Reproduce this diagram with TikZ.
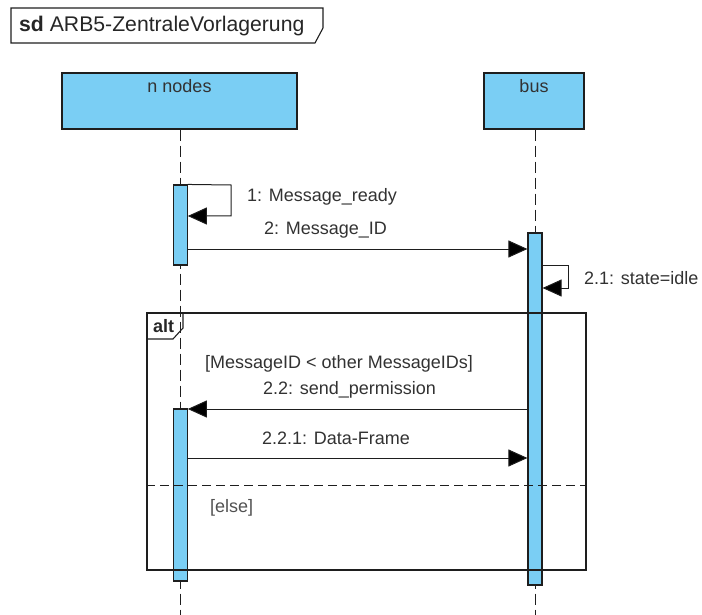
\documentclass[tikz,border=0pt]{standalone}
\usepackage{fontspec}
\setmainfont{Liberation Sans}
\usetikzlibrary{arrows.meta}
\definecolor{lifefill}{RGB}{122,206,244}
\definecolor{labelgray}{RGB}{50,50,50}
\definecolor{edgegray}{RGB}{30,30,30}

\begin{document}
\begin{tikzpicture}[x=1pt,y=-1pt,
  headbox/.style={draw=edgegray, fill=lifefill, line width=1.2pt, inner sep=0pt},
  actbar/.style={draw=edgegray, fill=lifefill, line width=1.1pt, inner sep=0pt, minimum width=13.5pt},
  lifeline/.style={line width=1pt, dash pattern=on 11pt off 5pt, draw=edgegray},
  msg/.style={line width=1pt, draw=edgegray, -{Triangle[length=19pt,width=17pt,fill=black]}},
  lbl/.style={font=\fontsize{18}{21}\selectfont, text=labelgray, inner sep=0pt, anchor=west},
  headlbl/.style={font=\fontsize{18}{21}\selectfont, text=labelgray, inner sep=0pt},
  framebox/.style={draw=edgegray, line width=1.1pt},
  sepline/.style={line width=1pt, dash pattern=on 9pt off 5pt, draw=edgegray}]

\useasboundingbox (0,0) rectangle (702,615);

% diagram frame header
\coordinate (t1) at (11,8);
\coordinate (t2) at (323,8);
\coordinate (t3) at (323,28);
\coordinate (t4) at (315,43);
\coordinate (t5) at (11,43);
\draw[framebox] (t1) -- (t2) -- (t3) -- (t4) -- (t5) -- cycle;
\node[lbl, anchor=west, font=\fontsize{21.2}{24}\selectfont, text=black!85] (title) at (19,26)
  {\textbf{sd} ARB5-ZentraleVorlagerung};

% lifeline heads
\node[headbox, minimum width=235pt, minimum height=56pt] (nn) at (179.5,101) {};
\node[headlbl] (nnlbl) at (179.5,86) {n nodes};
\node[headbox, minimum width=100pt, minimum height=56pt] (bus) at (534,101) {};
\node[headlbl] (buslbl) at (534,86) {bus};

% lifelines
\coordinate (nnend) at (180.5,615);
\coordinate (busend) at (535,615);
\draw[lifeline] (nn.south -| nnend) -- (nnend);
\draw[lifeline] (bus.south -| busend) -- (busend);

% activation bars
\node[actbar, minimum height=80pt] (act1) at (180.5,225) {};
\node[actbar, minimum width=14pt, minimum height=352pt] (act2) at (535,409) {};
\node[actbar, minimum height=172pt] (act3) at (180.5,495) {};

% 1: self message
\coordinate (s1a) at (231,185);
\coordinate (s1b) at (231,216);
\draw[msg] (act1.north east) -- (s1a) -- (s1b) -- (s1b -| act1.east);
\node[lbl] (m1) at (247,197) {1: Message\_ready};

% 2: Message_ID
\coordinate (y2) at (0,249);
\draw[msg] (y2 -| act1.east) -- (y2 -| act2.west);
\node[lbl] (m2) at (264,230) {2: Message\_ID};

% 2.1: self message on bus
\coordinate (s2o) at (542,265);
\coordinate (s2a) at (568,265);
\coordinate (s2b) at (568,288);
\draw[msg] (s2o -| act2.east) -- (s2a) -- (s2b) -- (s2b -| act2.east);
\node[lbl] (m21) at (584,278) {2.1: state=idle};

% alt fragment
\node[framebox, minimum width=439pt, minimum height=257pt, inner sep=0pt] (alt) at (366.5,441.5) {};
\coordinate (ta) at (183,313);
\coordinate (tb) at (183,328);
\coordinate (tc) at (173,339);
\coordinate (td) at (147,339);
\draw[framebox] (ta) -- (tb) -- (tc) -- (td);
\node[lbl, text=black!85] (altlbl) at (153,326) {\textbf{alt}};
\node[lbl] (guard1) at (205,364) {[MessageID < other MessageIDs]};

% 2.2: send_permission
\coordinate (y22) at (0,409);
\draw[msg] (y22 -| act2.west) -- (y22 -| act3.east);
\node[lbl] (m22) at (263,390) {2.2: send\_permission};

% 2.2.1: Data-Frame
\coordinate (y221) at (0,458);
\draw[msg] (y221 -| act3.east) -- (y221 -| act2.west);
\node[lbl] (m221) at (262,438) {2.2.1: Data-Frame};

% operand separator
\coordinate (ysep) at (0,485);
\draw[sepline] (ysep -| alt.west) -- (ysep -| alt.east);
\node[lbl, text=labelgray!85] (guard2) at (210,508) {[else]};

\end{tikzpicture}
\end{document}
